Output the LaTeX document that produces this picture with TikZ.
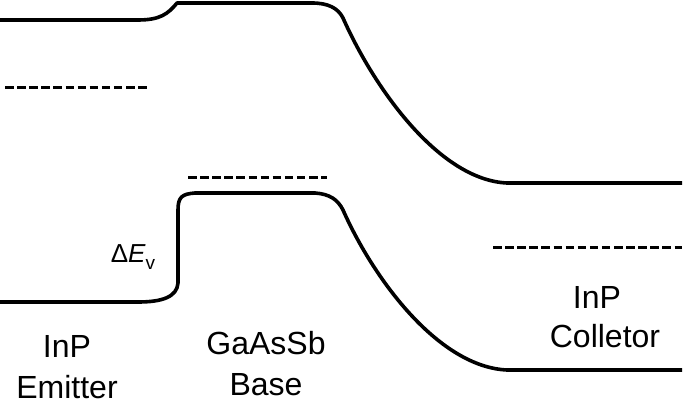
\documentclass[tikz,border=0pt]{standalone}
\usepackage{fontspec}
\setmainfont{Liberation Sans}
\begin{document}
\begin{tikzpicture}[x=1pt,y=-1pt,
band/.style={line width=3.6pt,line join=round},
fermi/.style={line width=3pt,dash pattern=on 8.5pt off 3.6pt},
lbl/.style={anchor=base,inner sep=0pt,font=\fontsize{32}{38}\selectfont}]
\useasboundingbox (0,0) rectangle (685,406);
% conduction band
\draw[band] (0,20) -- (138,20) .. controls (160,20) and (168,14) .. (177,3) -- (312,3)
 .. controls (328,3) and (338,8) .. (343,18)
 .. controls (375,90) and (440,180) .. (507,183) -- (682,183);
% valence band
\draw[band] (0,302) -- (138,302) .. controls (162,302) and (177,297) .. (178,283) -- (178,210)
 .. controls (178,197) and (182,194) .. (195,193) -- (315,193)
 .. controls (330,194) and (338,200) .. (343,210)
 .. controls (375,282) and (440,367) .. (507,370) -- (682,370);
% quasi fermi levels
\foreach \xa/\xb/\y in {5/150/88, 188/327/178, 493/682/247}
{
\draw[fermi] (\xa,\y) -- (\xb,\y);
}
\node[anchor=base,inner sep=0pt,font=\fontsize{26}{30}\selectfont] (dEv) at (133,262)
 {Δ\textit{E}\raisebox{-0.3em}{\fontsize{19}{22}\selectfont v}};
\node[lbl] (inpE) at (67,357) {InP};
\node[lbl] (emitter) at (67,398) {Emitter};
\node[lbl] (gaassb) at (266,354) {GaAsSb};
\node[lbl] (base) at (266,395) {Base};
\node[lbl] (inpC) at (597,308) {InP};
\node[lbl] (collector) at (605,347) {Colletor};
\end{tikzpicture}
\end{document}
